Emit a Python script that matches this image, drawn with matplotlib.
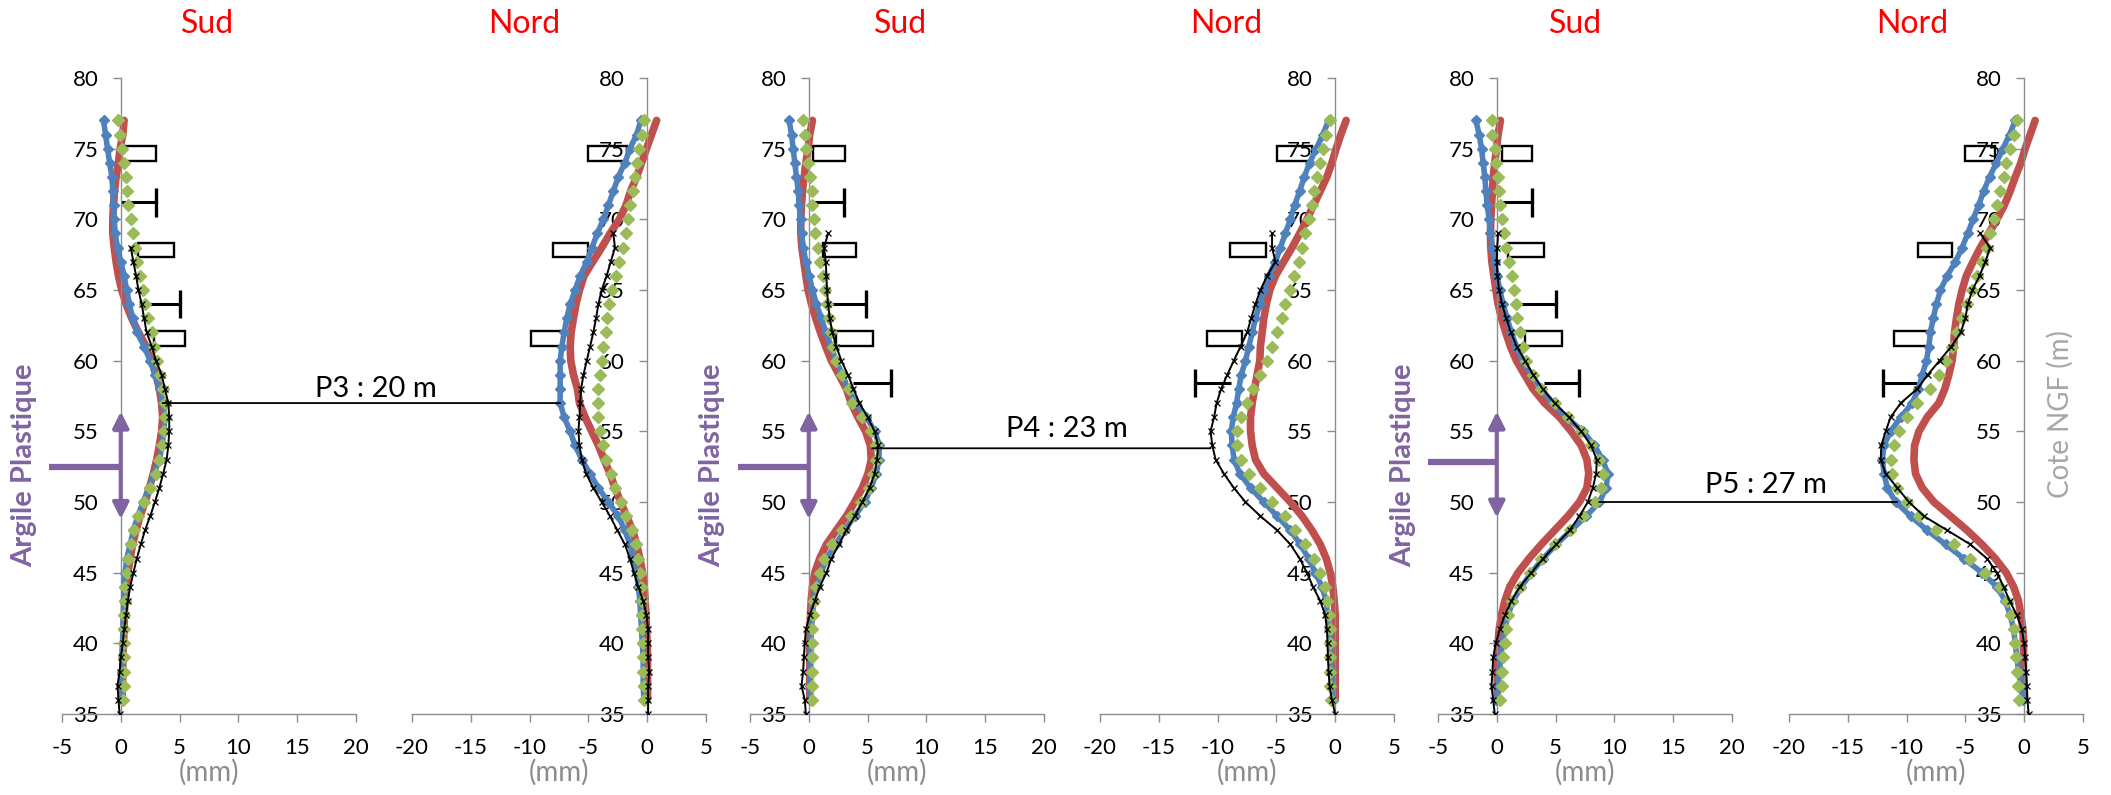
import matplotlib
matplotlib.use("Agg")
import matplotlib.pyplot as plt
from matplotlib.patches import Rectangle, ConnectionPatch
import numpy as np

plt.rcParams['font.family'] = ['Lato', 'DejaVu Sans']
plt.rcParams['axes.unicode_minus'] = False

# ---------------- DATA ----------------
# depths (m NGF) of model curves and of measured (inclinometer) curve
depth_model = [77, 76, 75, 74, 73, 72, 71, 70, 69, 68, 67, 66, 65, 64, 63, 62, 61, 60, 59, 58,
               57, 56, 55, 54, 53, 52, 51, 50, 49, 48, 47, 46, 45, 44, 43, 42, 41, 40, 39, 38, 37, 36]
depth_meas = [69, 68, 67, 66, 65, 64, 63, 62, 61, 60, 59, 58,
              57, 56, 55, 54, 53, 52, 51, 50, 49, 48, 47, 46, 45, 44, 43, 42, 41, 40, 39, 38, 37, 36, 35]

sections = ["P3", "P4", "P5"]
sides = ["Sud", "Nord"]
section_labels = ["P3 : 20 m", "P4 : 23 m", "P5 : 27 m"]
section_y = [57.0, 53.8, 50.0]
section_x_sud = [3.56, 5.4, 8.7]
section_x_nord = [-7.4, -10.6, -10.8]

# ---- P3 ----
p3_sud_blue = [-1.47, -1.3, -1.13, -0.95, -0.76, -0.68, -0.62, -0.56, -0.48, -0.28, 0.0, 0.28, 0.5, 0.73, 1.0, 1.4, 1.98, 2.5, 2.9, 3.3,
               3.6, 3.75, 3.67, 3.5, 3.3, 2.8, 2.4, 1.9, 1.44, 1.07, 0.8, 0.5, 0.37, 0.28, 0.23, 0.23, 0.17, 0.17, 0.15, 0.1, 0.1, 0.1]
p3_sud_green = [-0.28, -0.05, 0.08, 0.28, 0.42, 0.56, 0.65, 0.85, 1.0, 1.2, 1.4, 1.64, 1.86, 2.06, 2.34, 2.63, 2.82, 3.1, 3.33, 3.6,
                3.75, 3.8, 3.7, 3.53, 3.28, 2.97, 2.5, 2.0, 1.5, 1.13, 0.88, 0.65, 0.5, 0.37, 0.37, 0.3, 0.28, 0.28, 0.28, 0.23, 0.23, 0.17]
p3_sud_red = [0.28, 0.17, -0.06, -0.2, -0.4, -0.54, -0.62, -0.68, -0.68, -0.56, -0.4, -0.2, 0.08, 0.45, 0.93, 1.5, 2.15, 2.63, 3.0, 3.28,
              3.47, 3.56, 3.47, 3.28, 3.05, 2.77, 2.43, 2.06, 1.64, 1.3, 1.0, 0.8, 0.6, 0.45, 0.37, 0.3, 0.28, 0.23, 0.17, 0.17, 0.14, 0.1]
p3_sud_meas = [np.nan, 0.85, 1.07, 1.3, 1.5, 1.78, 1.98, 2.2, 2.63, 3.0, 3.47, 3.75,
               4.04, 4.12, 4.12, 4.04, 3.9, 3.6, 3.28, 2.9, 2.5, 2.06, 1.7, 1.36, 1.07, 0.8, 0.6, 0.45, 0.28, 0.17, 0.0, -0.1, -0.28, -0.2, -0.1]

p3_nord_blue = [-0.54, -0.9, -1.47, -1.9, -2.46, -2.88, -3.3, -3.73, -4.24, -4.7, -5.14, -5.7, -6.13, -6.55, -6.84, -7.06, -7.26, -7.4, -7.4, -7.4,
                -7.4, -7.06, -6.55, -6.13, -5.56, -4.86, -4.15, -3.3, -2.46, -1.9, -1.47, -1.19, -0.9, -0.76, -0.62, -0.56, -0.48, -0.42, -0.34, -0.34, -0.34, -0.28]
p3_nord_green = [-0.28, -0.48, -0.68, -0.9, -1.05, -1.24, -1.47, -1.6, -1.8, -2.03, -2.37, -2.65, -3.0, -3.22, -3.39, -3.5, -3.73, -3.87, -4.0, -4.15,
                 -4.15, -4.15, -4.0, -3.78, -3.5, -3.1, -2.74, -2.26, -1.8, -1.33, -0.96, -0.76, -0.62, -0.54, -0.48, -0.42, -0.4, -0.34, -0.34, -0.34, -0.28, -0.28]
p3_nord_red = [0.8, 0.37, -0.06, -0.48, -0.9, -1.41, -1.8, -2.37, -3.16, -3.87, -4.63, -5.37, -5.76, -6.05, -6.27, -6.47, -6.55, -6.5, -6.27, -5.93,
               -5.76, -5.28, -4.72, -4.15, -3.67, -3.16, -2.74, -2.26, -1.75, -1.24, -0.9, -0.62, -0.4, -0.25, -0.17, -0.11, -0.06, 0.0, 0.03, 0.03, 0.03, 0.03]
p3_nord_meas = [-2.88, -2.74, -3.1, -3.45, -3.87, -4.15, -4.35, -4.58, -4.86, -5.14, -5.42, -5.62,
                -5.7, -5.76, -5.85, -5.76, -5.56, -5.2, -4.58, -3.87, -3.16, -2.54, -1.9, -1.47, -1.13, -0.76, -0.34, -0.06, 0.08, 0.08, 0.08, 0.17, 0.08, 0.08, 0.08]

# ---- P4 ----
p4_sud_blue = [-1.67, -1.47, -1.33, -1.19, -1.05, -0.9, -0.82, -0.7, -0.62, -0.48, -0.25, 0.03, 0.31, 0.65, 1.07, 1.44, 1.92, 2.3, 2.9, 3.3,
               4.04, 4.9, 5.6, 6.0, 5.96, 5.73, 5.3, 4.75, 3.9, 3.05, 2.29, 1.5, 1.07, 0.65, 0.42, 0.31, 0.23, 0.17, 0.14, 0.08, 0.08, 0.08]
p4_sud_green = [-0.48, -0.34, -0.2, -0.06, 0.08, 0.23, 0.31, 0.42, 0.56, 0.79, 0.99, 1.21, 1.41, 1.55, 1.72, 1.92, 2.06, 2.34, 2.85, 3.4,
                3.7, 4.55, 5.3, 5.73, 5.68, 5.45, 5.1, 4.46, 3.6, 2.85, 2.0, 1.27, 0.93, 0.65, 0.45, 0.37, 0.31, 0.31, 0.31, 0.31, 0.28, 0.23]
p4_sud_red = [0.31, 0.08, -0.06, -0.25, -0.4, -0.54, -0.62, -0.68, -0.68, -0.59, -0.42, -0.25, -0.06, 0.23, 0.59, 0.99, 1.44, 1.92, 2.57, 3.2,
              3.6, 4.18, 4.83, 5.23, 5.31, 5.03, 4.55, 3.9, 3.19, 2.34, 1.5, 0.93, 0.51, 0.31, 0.2, 0.14, 0.11, 0.08, 0.08, 0.08, 0.08, 0.08]
p4_sud_meas = [1.64, 1.3, 1.44, 1.5, 1.55, 1.64, 1.78, 2.0, 2.34, 2.77, 3.33, 3.8,
               4.3, 5.0, 5.6, 5.9, 5.8, 5.6, 5.17, 4.55, 3.9, 3.19, 2.57, 1.92, 1.5, 0.93, 0.51, 0.08, -0.25, -0.34, -0.42, -0.48, -0.62, -0.34, -0.25]

p4_nord_blue = [-0.56, -1.05, -1.61, -2.18, -2.63, -3.02, -3.45, -3.81, -4.24, -4.66, -5.08, -5.65, -6.07, -6.41, -6.78, -7.06, -7.34, -7.63, -7.99, -8.2,
                -8.39, -8.67, -8.84, -8.76, -8.6, -8.1, -7.2, -6.07, -4.94, -3.81, -2.97, -2.26, -1.69, -1.13, -0.76, -0.65, -0.48, -0.37, -0.37, -0.28, -0.28, -0.2]
p4_nord_green = [-0.48, -0.76, -1.05, -1.27, -1.55, -1.78, -1.98, -2.26, -2.54, -2.82, -3.1, -3.47, -3.81, -4.24, -4.52, -4.94, -5.37, -5.79, -6.36, -7.0,
                 -7.49, -8.05, -8.33, -8.33, -8.05, -7.34, -6.36, -5.37, -4.24, -3.39, -2.54, -1.84, -1.27, -0.85, -0.71, -0.56, -0.48, -0.48, -0.42, -0.42, -0.42, -0.37]
p4_nord_red = [0.93, 0.48, 0.08, -0.28, -0.71, -1.27, -1.84, -2.4, -3.02, -3.67, -4.38, -5.08, -5.56, -5.85, -6.07, -6.21, -6.36, -6.41, -6.64, -6.86,
               -7.06, -7.2, -7.2, -7.06, -6.78, -6.07, -4.94, -3.81, -2.82, -1.98, -1.27, -0.76, -0.42, -0.2, -0.08, 0.0, 0.0, 0.0, 0.0, 0.0, 0.0, 0.0]
p4_nord_meas = [-5.37, -5.37, -5.08, -5.79, -6.36, -6.78, -7.15, -7.49, -8.05, -8.62, -9.18, -9.7,
                -10.08, -10.3, -10.6, -10.45, -10.17, -9.46, -8.62, -7.63, -6.36, -4.94, -3.81, -3.02, -2.4, -1.89, -1.27, -0.85, -0.71, -0.65, -0.62, -0.56, -0.48, -0.28, 0.0]

# ---- P5 ----
p5_sud_blue = [-1.78, -1.5, -1.3, -1.16, -1.02, -0.93, -0.82, -0.65, -0.54, -0.37, -0.17, 0.03, 0.25, 0.54, 0.88, 1.24, 1.67, 2.23, 2.94, 3.79,
               4.77, 5.9, 7.32, 8.3, 9.0, 9.44, 9.3, 8.73, 7.6, 6.33, 5.06, 3.93, 2.94, 2.09, 1.38, 0.96, 0.68, 0.48, 0.31, 0.25, 0.11, -0.03]
p5_sud_green = [-0.45, -0.37, -0.17, -0.03, 0.11, 0.2, 0.31, 0.48, 0.59, 0.82, 1.05, 1.33, 1.44, 1.61, 1.72, 1.95, 2.23, 2.51, 3.08, 3.79,
                4.92, 6.05, 7.18, 8.02, 8.73, 9.0, 8.87, 8.39, 7.32, 6.19, 4.92, 3.79, 2.8, 1.95, 1.33, 0.96, 0.76, 0.68, 0.54, 0.48, 0.48, 0.31]
p5_sud_red = [0.31, 0.11, -0.03, -0.17, -0.31, -0.37, -0.45, -0.51, -0.54, -0.51, -0.42, -0.25, -0.08, 0.11, 0.4, 0.76, 1.16, 1.67, 2.37, 3.08,
              4.07, 5.34, 6.33, 7.18, 7.66, 7.82, 7.66, 7.03, 6.05, 4.92, 3.79, 2.74, 1.81, 1.1, 0.68, 0.4, 0.2, 0.11, 0.03, 0.03, 0.03, 0.03]
p5_sud_meas = [0.11, 0.03, 0.0, 0.05, 0.2, 0.45, 0.8, 1.2, 1.7, 2.4, 3.1, 3.9,
               4.92, 6.13, 7.18, 8.02, 8.5, 8.45, 8.16, 7.74, 7.03, 6.19, 5.06, 3.93, 2.94, 1.95, 1.24, 0.68, 0.25, -0.08, -0.31, -0.37, -0.45, -0.31, -0.17]

p5_nord_blue = [-0.76, -1.24, -1.81, -2.37, -2.94, -3.45, -3.87, -4.35, -4.8, -5.28, -5.85, -6.55, -7.12, -7.46, -7.74, -7.97, -8.11, -8.31, -8.67, -9.0,
                -9.52, -10.5, -11.36, -11.92, -12.06, -11.92, -11.64, -10.93, -9.66, -8.25, -6.69, -5.14, -3.59, -2.32, -1.61, -1.19, -0.9, -0.76, -0.62, -0.48, -0.28, -0.11]
p5_nord_green = [-0.62, -0.9, -1.24, -1.53, -1.75, -2.09, -2.32, -2.6, -2.88, -3.16, -3.59, -4.01, -4.44, -4.86, -5.28, -5.71, -6.13, -6.69, -7.26, -8.0,
                 -9.1, -9.94, -10.65, -11.07, -11.3, -11.21, -10.79, -10.0, -8.95, -7.54, -5.99, -4.58, -3.31, -2.03, -1.47, -1.13, -0.9, -0.76, -0.68, -0.62, -0.56, -0.48]
p5_nord_red = [0.93, 0.51, 0.08, -0.28, -0.76, -1.19, -1.69, -2.32, -3.02, -3.73, -4.35, -4.92, -5.28, -5.56, -5.76, -5.93, -5.99, -6.13, -6.41, -6.75,
               -7.26, -8.25, -8.95, -9.32, -9.38, -9.24, -8.67, -7.68, -6.27, -4.86, -3.59, -2.46, -1.53, -0.9, -0.48, -0.28, -0.11, -0.06, -0.06, -0.06, -0.06, -0.06]
p5_nord_meas = [-3.73, -2.9, -3.3, -3.8, -4.4, -4.8, -5.0, -5.4, -6.2, -7.2, -8.2, -9.1,
                -10.5, -11.36, -11.78, -12.15, -12.2, -11.78, -10.79, -9.8, -8.53, -6.55, -4.58, -3.16, -2.32, -1.75, -1.24, -0.62, -0.2, 0.0, 0.08, 0.17, 0.23, 0.28, 0.37]

# support levels: rectangles (bottom y, x start, x end) and T-marks (y, x start, x cap)
p3_sud_rects = [(74.13, 0.0, 3.0), (67.3, 1.45, 4.5), (61.05, 2.8, 5.5)]
p3_sud_tees = [(71.2, 0.0, 3.0), (64.0, 2.2, 5.0)]
p3_nord_rects = [(74.13, -5.0, -1.7), (67.3, -8.0, -5.0), (61.05, -9.9, -7.2)]
p3_nord_tees = []
p4_sud_rects = [(74.13, 0.37, 3.05), (67.3, 1.2, 4.0), (61.05, 2.3, 5.5)]
p4_sud_tees = [(71.2, 0.0, 3.0), (64.0, 1.9, 4.9), (58.4, 3.8, 6.95)]
p4_nord_rects = [(74.13, -4.94, -1.98), (67.3, -8.95, -5.85), (61.05, -10.9, -7.9)]
p4_nord_tees = [(58.4, -8.9, -11.9)]
p5_sud_rects = [(74.13, 0.4, 3.0), (67.3, 0.96, 4.0), (61.05, 2.4, 5.55)]
p5_sud_tees = [(71.2, 0.0, 3.0), (64.0, 1.95, 5.0), (58.4, 4.0, 7.0)]
p5_nord_rects = [(74.13, -5.0, -2.46), (67.3, -9.0, -6.1), (61.05, -11.07, -8.1)]
p5_nord_tees = [(58.4, -9.1, -12.0)]

# "Argile Plastique" layer marker: top, bottom, mark level, bar start (x)
argile_top = [56.4, 56.4, 56.4]
argile_bottom = [48.8, 48.8, 48.9]
argile_mark = [52.5, 52.5, 52.8]
argile_bar_x = [-6.1, -6.0, -5.85]

panels = {
    ("P3", "Sud"): (p3_sud_blue, p3_sud_green, p3_sud_red, p3_sud_meas, p3_sud_rects, p3_sud_tees),
    ("P3", "Nord"): (p3_nord_blue, p3_nord_green, p3_nord_red, p3_nord_meas, p3_nord_rects, p3_nord_tees),
    ("P4", "Sud"): (p4_sud_blue, p4_sud_green, p4_sud_red, p4_sud_meas, p4_sud_rects, p4_sud_tees),
    ("P4", "Nord"): (p4_nord_blue, p4_nord_green, p4_nord_red, p4_nord_meas, p4_nord_rects, p4_nord_tees),
    ("P5", "Sud"): (p5_sud_blue, p5_sud_green, p5_sud_red, p5_sud_meas, p5_sud_rects, p5_sud_tees),
    ("P5", "Nord"): (p5_nord_blue, p5_nord_green, p5_nord_red, p5_nord_meas, p5_nord_rects, p5_nord_tees),
}

# ---------------- STYLE / LAYOUT ----------------
W, H = 2111, 795
BLUE, GREEN, RED, PURPLE = "#4F81BD", "#9BBB59", "#C0504D", "#8064A2"
AXIS_GRAY = "#8C8C8C"
lefts_px = [62, 412, 750, 1100, 1438, 1789]
title_x_px = [208, 524, 901, 1226, 1576, 1912]
panel_w_px = 294
bottom_px, top_px = 714, 78
argile_x_px = [24, 712, 1403]
label_x_px = [376, 1067, 1766]
label_bottom_px = [397, 437, 493]

fig = plt.figure(figsize=(W / 100, H / 100), dpi=100)

axes = {}
i = 0
for s in sections:
    for side in sides:
        ax = fig.add_axes([lefts_px[i] / W, 1 - bottom_px / H, panel_w_px / W, (bottom_px - top_px) / H])
        ax.set_facecolor("none")
        blue, green, red, meas, rects, tees = panels[(s, side)]
        if side == "Sud":
            ax.set_xlim(-5, 20)
            ax.set_xticks([-5, 0, 5, 10, 15, 20])
        else:
            ax.set_xlim(-20, 5)
            ax.set_xticks([-20, -15, -10, -5, 0, 5])
        ax.set_ylim(35, 80)
        ax.set_yticks([35, 40, 45, 50, 55, 60, 65, 70, 75, 80])
        ax.spines["left"].set_position(("data", 0))
        ax.spines["top"].set_visible(False)
        ax.spines["right"].set_visible(False)
        for sp in ("left", "bottom"):
            ax.spines[sp].set_color(AXIS_GRAY)
            ax.spines[sp].set_linewidth(1.0)
        ax.tick_params(axis="both", direction="out", length=6, width=1.0, color=AXIS_GRAY,
                       labelsize=16, labelcolor="black")
        ax.tick_params(axis="y", pad=10)
        ax.tick_params(axis="x", pad=11)
        ax.set_xlabel("(mm)", color=AXIS_GRAY, fontsize=20, labelpad=1)

        for (yb, x0, x1) in rects:
            ax.add_patch(Rectangle((x0, yb), x1 - x0, 1.05, fill=False, ec="black", lw=1.7, zorder=1))
        for (yt, x0, x1) in tees:
            ax.plot([x0, x1], [yt, yt], color="black", lw=2.2, zorder=1, solid_capstyle="butt")
            ax.plot([x1, x1], [yt - 1.0, yt + 1.0], color="black", lw=2.4, zorder=1, solid_capstyle="butt")

        ax.plot(red, depth_model, color=RED, lw=5.5, zorder=2, solid_capstyle="round")
        ax.plot(blue, depth_model, color=BLUE, lw=4.0, marker="D", ms=5.5, zorder=3)
        ax.plot(green, depth_model, ls="none", marker="D", ms=6.5, color=GREEN, zorder=4)
        ax.plot(meas, depth_meas, color="black", lw=1.4, marker="x", ms=5, mew=0.9, zorder=5)

        fig.text(title_x_px[i] / W, 1 - 24 / H, side, color="red", fontsize=23, ha="center", va="center")
        axes[(s, side)] = ax
        i += 1

# Argile Plastique annotations on the Sud panels
for k, s in enumerate(sections):
    ax = axes[(s, "Sud")]
    ax.annotate("", xy=(0, argile_top[k]), xytext=(0, argile_bottom[k]),
                arrowprops=dict(arrowstyle="<|-|>", color=PURPLE, lw=3, mutation_scale=24, shrinkA=0, shrinkB=0),
                annotation_clip=False, zorder=6)
    ax.plot([argile_bar_x[k], 0], [argile_mark[k], argile_mark[k]], color=PURPLE, lw=4.5,
            clip_on=False, zorder=6, solid_capstyle="butt")
    fig.text(argile_x_px[k] / W, 1 - 465 / H, "Argile Plastique", rotation=90, color=PURPLE,
             fontsize=21, fontweight="bold", ha="center", va="center")

# section lines between Sud and Nord curves
for k, s in enumerate(sections):
    cp = ConnectionPatch(xyA=(section_x_sud[k], section_y[k]), coordsA=axes[(s, "Sud")].transData,
                         xyB=(section_x_nord[k], section_y[k]), coordsB=axes[(s, "Nord")].transData,
                         color="black", lw=1.3, zorder=7)
    fig.add_artist(cp)
    fig.text(label_x_px[k] / W, 1 - label_bottom_px[k] / H, section_labels[k], fontsize=21,
             ha="center", va="baseline")

fig.text(2060 / W, 1 - 414 / H, "Cote NGF (m)", rotation=90, color="#A6A6A6", fontsize=20,
         ha="center", va="center")

fig.savefig("out.png", dpi=100)
